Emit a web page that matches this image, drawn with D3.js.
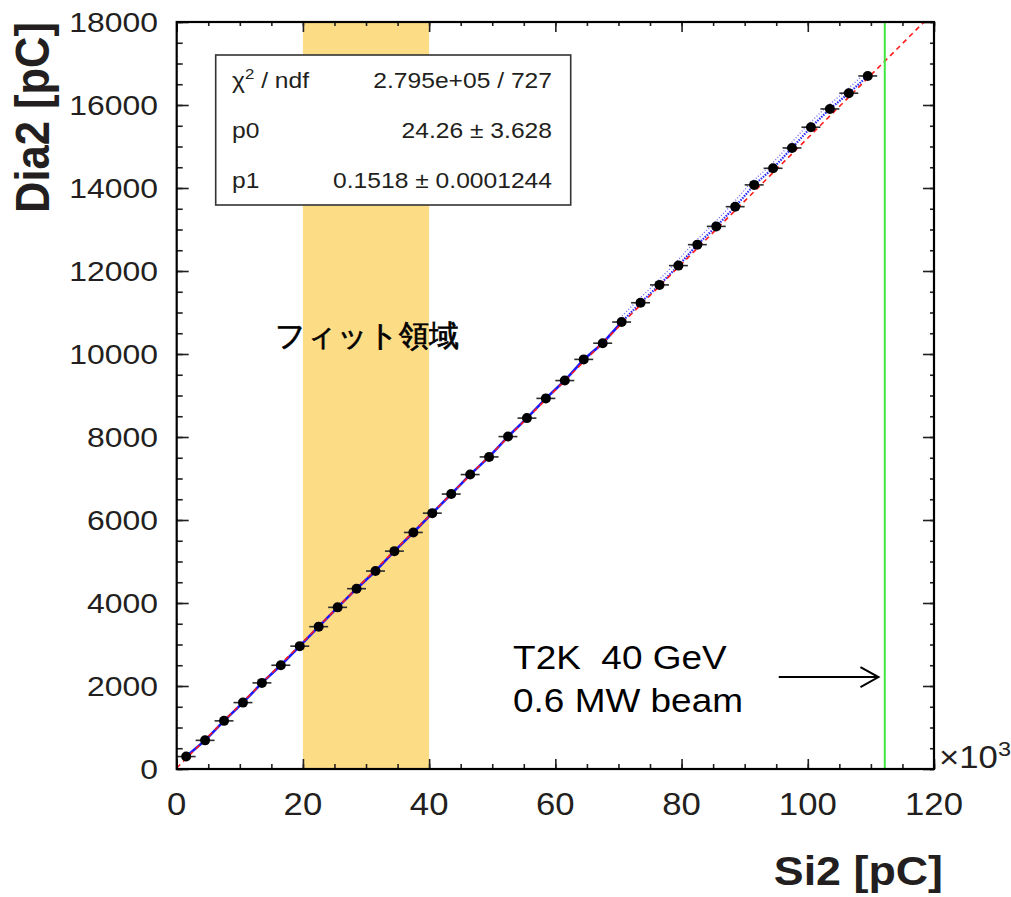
<!DOCTYPE html>
<html>
<head>
<meta charset="utf-8">
<script src="https://cdn.jsdelivr.net/npm/d3@7"></script>
<style>
  body { margin: 0; background: #fff; }
  text { font-family: "Liberation Sans", Arial, sans-serif; fill: #231f20; }
</style>
</head>
<body>
<svg id="chart" width="1011" height="897"></svg>
<script>
// bin centres of Si2 (x10^3 pC) and mean Dia2 (pC)
const si2  = [1.5, 4.5, 7.5, 10.5, 13.5, 16.5, 19.5, 22.5, 25.5, 28.5, 31.5, 34.5, 37.5,
              40.5, 43.5, 46.5, 49.5, 52.5, 55.5, 58.5, 61.5, 64.5, 67.5, 70.5, 73.5, 76.5,
              79.5, 82.5, 85.5, 88.5, 91.5, 94.5, 97.5, 100.5, 103.5, 106.5, 109.5];
const dia2 = [300, 690, 1160, 1600, 2075, 2500, 2960, 3430, 3895, 4345, 4770, 5250, 5700,
              6165, 6625, 7095, 7520, 8010, 8455, 8930, 9360, 9870, 10260, 10770, 11235, 11665,
              12130, 12635, 13075, 13550, 14075, 14475, 14965, 15465, 15905, 16285, 16700];
const si2Err = 1.5;

// fit: Dia2 = p0 + p1 * Si2
const p0 = 24.26, p1 = 0.1518;
const statRows = [
  ["χ2 / ndf", "2.795e+05 / 727"],
  ["p0", "24.26 ± 3.628"],
  ["p1", "0.1518 ± 0.0001244"]
];

const fitRange  = [20, 40];
const beamLine  = 112.2;
const xTickVals = [0, 20, 40, 60, 80, 100, 120];
const yTickVals = [0, 2000, 4000, 6000, 8000, 10000, 12000, 14000, 16000, 18000];

const STRETCH = 1.12;   // glyphs in the original are a bit wide

const svg = d3.select("#chart");
const pLeft = 176.7, pRight = 934, pTop = 22, pBottom = 769;

const x = d3.scaleLinear().domain([0, 120]).range([pLeft, pRight]);
const y = d3.scaleLinear().domain([0, 18000]).range([pBottom, pTop]);

svg.append("defs").append("clipPath").attr("id", "plotClip")
  .append("rect").attr("x", pLeft).attr("y", pTop)
  .attr("width", pRight - pLeft).attr("height", pBottom - pTop);

function label(g, px, py, txt, size, anchor, weight) {
  return g.append("text")
    .attr("transform", `translate(${px},${py}) scale(${STRETCH},1)`)
    .attr("font-size", size)
    .attr("font-weight", weight || "normal")
    .attr("text-anchor", anchor || "start")
    .text(txt);
}

// fit region band
svg.append("rect")
  .attr("x", x(fitRange[0])).attr("y", pTop)
  .attr("width", x(fitRange[1]) - x(fitRange[0]))
  .attr("height", pBottom - pTop)
  .attr("fill", "#fddc86");

const plot = svg.append("g").attr("clip-path", "url(#plotClip)");

// blue underlying graph
const allPts  = si2.map((d, i) => [d, dia2[i]]);
const lowPts  = allPts.filter(d => d[0] <= 71);
const highPts = allPts.filter(d => d[0] >= 70);
const line = d3.line().x(d => x(d[0])).y(d => y(d[1]));

plot.append("path").datum(lowPts)
  .attr("d", line).attr("fill", "none")
  .attr("stroke", "#1a1aff").attr("stroke-width", 2.6);
plot.append("path").datum(highPts)
  .attr("d", line).attr("fill", "none")
  .attr("stroke", "#2a2aff").attr("stroke-width", 2.2)
  .attr("stroke-dasharray", "1.5,1.2");
plot.append("path").datum(highPts.map(d => [d[0] - 0.6, d[1] + 40]))
  .attr("d", line).attr("fill", "none")
  .attr("stroke", "#6a6aff").attr("stroke-width", 1.4)
  .attr("stroke-dasharray", "1,2");

// fit line
const fitX = [0, 120];
plot.append("path")
  .datum(fitX.map(v => [v, p0 + p1 * v * 1000]))
  .attr("d", line)
  .attr("fill", "none")
  .attr("stroke", "#ff1a1a").attr("stroke-width", 1.6)
  .attr("stroke-dasharray", "5,4");

// error bars and markers
const pts = svg.append("g");
pts.selectAll("line.err").data(allPts).join("line")
  .attr("class", "err")
  .attr("x1", d => x(d[0] - si2Err)).attr("x2", d => x(d[0] + si2Err))
  .attr("y1", d => y(d[1])).attr("y2", d => y(d[1]))
  .attr("stroke", "#2b2b2b").attr("stroke-width", 1.6);
pts.selectAll("circle").data(allPts).join("circle")
  .attr("cx", d => x(d[0])).attr("cy", d => y(d[1]))
  .attr("r", 5).attr("fill", "#000");

// beam intensity marker
svg.append("line")
  .attr("x1", x(beamLine)).attr("x2", x(beamLine))
  .attr("y1", pTop).attr("y2", pBottom)
  .attr("stroke", "#3fe83f").attr("stroke-width", 2);

const arrowY = y(2215), arrowEnd = x(111.2);
svg.append("line")
  .attr("x1", x(95.4)).attr("x2", arrowEnd)
  .attr("y1", arrowY).attr("y2", arrowY)
  .attr("stroke", "#000").attr("stroke-width", 2);
svg.append("path")
  .attr("d", `M${arrowEnd - 18},${arrowY - 10} L${arrowEnd},${arrowY} L${arrowEnd - 18},${arrowY + 10}`)
  .attr("fill", "none").attr("stroke", "#000").attr("stroke-width", 2);

// axes (ticks inside, on all four sides)
function ticksOnly(axis, size, vals) {
  return axis.tickValues(vals).tickSize(size).tickFormat("");
}
const minorX = d3.range(0, 121, 5);
const minorY = d3.range(0, 18001, 500);

const axes = svg.append("g");
axes.append("g").attr("transform", `translate(0,${pBottom})`).call(ticksOnly(d3.axisBottom(x), -5, minorX));
axes.append("g").attr("transform", `translate(0,${pBottom})`).call(ticksOnly(d3.axisBottom(x), -10, xTickVals));
axes.append("g").attr("transform", `translate(0,${pTop})`).call(ticksOnly(d3.axisTop(x), -4, minorX));
axes.append("g").attr("transform", `translate(0,${pTop})`).call(ticksOnly(d3.axisTop(x), -10, xTickVals));
axes.append("g").attr("transform", `translate(${pLeft},0)`).call(ticksOnly(d3.axisLeft(y), -6, minorY));
axes.append("g").attr("transform", `translate(${pLeft},0)`).call(ticksOnly(d3.axisLeft(y), -12, yTickVals));
axes.append("g").attr("transform", `translate(${pRight},0)`).call(ticksOnly(d3.axisRight(y), -4, minorY));
axes.append("g").attr("transform", `translate(${pRight},0)`).call(ticksOnly(d3.axisRight(y), -11, yTickVals));
axes.selectAll("path.domain").remove();
axes.selectAll(".tick line").attr("stroke", "#231f20").attr("stroke-width", 1.6);

svg.append("rect")
  .attr("x", pLeft).attr("y", pTop)
  .attr("width", pRight - pLeft).attr("height", pBottom - pTop)
  .attr("fill", "none").attr("stroke", "#000").attr("stroke-width", 2.2);

// tick labels
const labels = svg.append("g");
xTickVals.forEach(v => label(labels, x(v), 815, v, 31, "middle"));
yTickVals.forEach(v => label(labels, 158, y(v) + 10, v, 28.5, "end"));

const exp = label(labels, 939, 768, "×10", 31, "start");
exp.append("tspan").attr("dy", -12).attr("font-size", 21).text("3");

// axis titles
label(svg, 943, 885, "Si2 [pC]", 40, "end", "bold");
svg.append("text")
  .attr("transform", `translate(49,22) rotate(-90) scale(1,${STRETCH})`)
  .attr("font-size", 43.5).attr("font-weight", "bold")
  .attr("text-anchor", "end")
  .text("Dia2 [pC]");

// stats box
const box = svg.append("g");
box.append("rect")
  .attr("x", 215.7).attr("y", 55).attr("width", 355).attr("height", 150)
  .attr("fill", "#fff").attr("stroke", "#333").attr("stroke-width", 1.6);
statRows.forEach((r, i) => {
  const by = 88 + i * 50;
  const nameT = label(box, 232, by, "", 22, "start");
  if (i === 0) {
    nameT.append("tspan").text("χ");
    nameT.append("tspan").attr("dy", -9).attr("font-size", 15).text("2");
    nameT.append("tspan").attr("dy", 9).text(" / ndf");
  } else {
    nameT.text(r[0]);
  }
  label(box, 552, by, r[1], 22, "end");
});

// annotations
svg.append("text")
  .attr("x", x(15.5)).attr("y", 346)
  .attr("font-family", "'Noto Sans CJK JP', sans-serif")
  .attr("font-size", 29.5)
  .style("fill", "#000")
  .style("stroke", "#000").style("stroke-width", 0.7)
  .text("フィット領域");

label(svg, x(53.3), y(2410), "T2K  40 GeV", 33, "start").style("fill", "#000").attr("xml:space", "preserve");
label(svg, x(53.3), y(1373), "0.6 MW beam", 33, "start").style("fill", "#000");
</script>
</body>
</html>
